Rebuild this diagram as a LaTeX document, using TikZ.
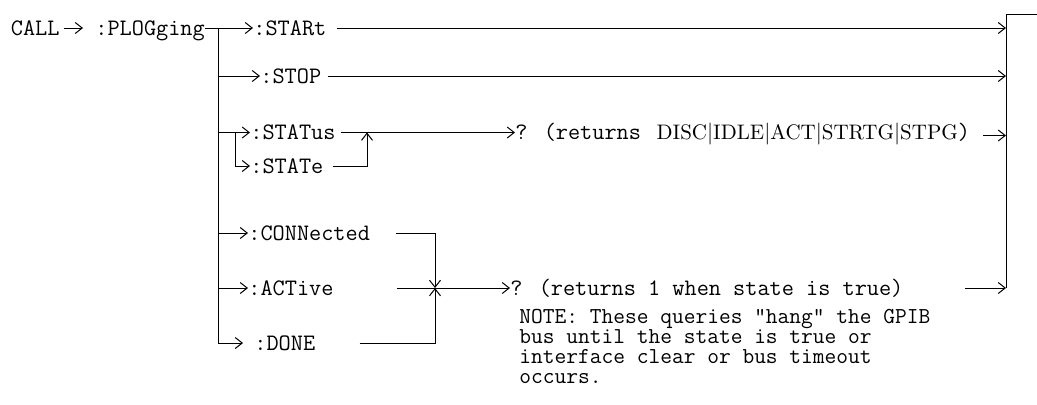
\documentclass[tikz,border=0pt]{standalone}
\usepackage{fontspec}
\usetikzlibrary{arrows.meta,positioning}
\tikzset{
  cmd/.style  ={font=\ttfamily\fontsize{11.8}{13}\selectfont,inner sep=0pt,
                anchor=west,text height=7.2pt,text depth=0pt},
  note/.style ={font=\ttfamily\fontsize{11.4}{10}\selectfont,inner sep=0pt,
                anchor=north west,align=left},
  sig/.style  ={-{Straight Barb[length=3.5pt,width=5.5pt]},line width=0.5pt},
  wire/.style ={line width=0.5pt},
}
\begin{document}
\begin{tikzpicture}[x=0.5pt,y=0.5pt]
\useasboundingbox (0,0) rectangle (1037,-404);
\node[cmd] (call) at (10.5,-28) {CALL};
\node[cmd] (plog) at (95,-28) {:PLOGging};

\node[cmd] (start)  at (253,-28)    {:STARt};
\node[cmd] (stop)   at (260,-76)    {:STOP};
\node[cmd] (status) at (250,-132.5) {:STATus};
\node[cmd] (state)  at (250,-166)   {:STATe};
\node[cmd] (conn)   at (248,-233)   {:CONNected};
\node[cmd] (active) at (248,-288)   {:ACTive};
\node[cmd] (done)   at (254,-343)   {:DONE};

\node[cmd] (qstat) at (515,-132.5)
  {? (returns {\rmfamily\fontsize{10.5}{13}\selectfont
   \,DISC$|$IDLE$|$ACT$|$STRTG$|$STPG})};
\node[cmd] (qbool) at (510,-288) {? (returns 1 when state is true)};
\node[note] (hang) at (519,-309)
  {NOTE: These queries “hang” the GPIB\\ bus until the state is true or\\
   interface clear or bus timeout\\ occurs.};

% spine on the left, rail on the right; stubs taken with -| so they stay level
\coordinate (spine) at (218,0);
\coordinate (fork)  at (235,0);
\coordinate (rail)  at (1006,0);
\coordinate (exit)  at (1037,-14);
\coordinate (merge) at (367,-132.5);
\coordinate (join)  at (435,-288);

\draw[sig] ([xshift=2pt]call.east) -- ([xshift=-6pt]plog.west);
\draw[sig] (plog) -- (start);
\draw[wire] (start.west -| spine) -- (done.west -| spine);
\foreach \n in {stop,status,conn,active}{\draw[sig] (\n.west -| spine) -- (\n.west);}
\draw[sig,shorten >=5.5pt] (done.west -| spine) -- (done.west);
\draw[sig] (status.west -| fork) |- (state.west);

\draw[sig] ([xshift=5pt]start.east) -- (start.east -| rail);
\draw[sig] ([xshift=3pt]stop.east) -- (stop.east -| rail);
\draw[sig] ([xshift=2.5pt]status.east) -- (qstat.west);
\draw[sig] ([xshift=4.5pt]state.east) -| (merge);
\draw[sig] ([xshift=-11.5pt,yshift=-1.5pt]qstat.east -| rail)
  -- ([yshift=-1.5pt]qstat.east -| rail);

\draw[sig] ([xshift=13pt]conn.east) -| (join);
\draw[sig] ([xshift=22pt]done.east) -| (join);
\draw[sig] ([xshift=31.5pt]active.east) -- (qbool.west);
\draw[sig] ([xshift=-20.5pt]qbool.east -| rail) -- (qbool.east -| rail);
\draw[wire] (exit) -| (qbool.east -| rail);
\end{tikzpicture}
\end{document}
